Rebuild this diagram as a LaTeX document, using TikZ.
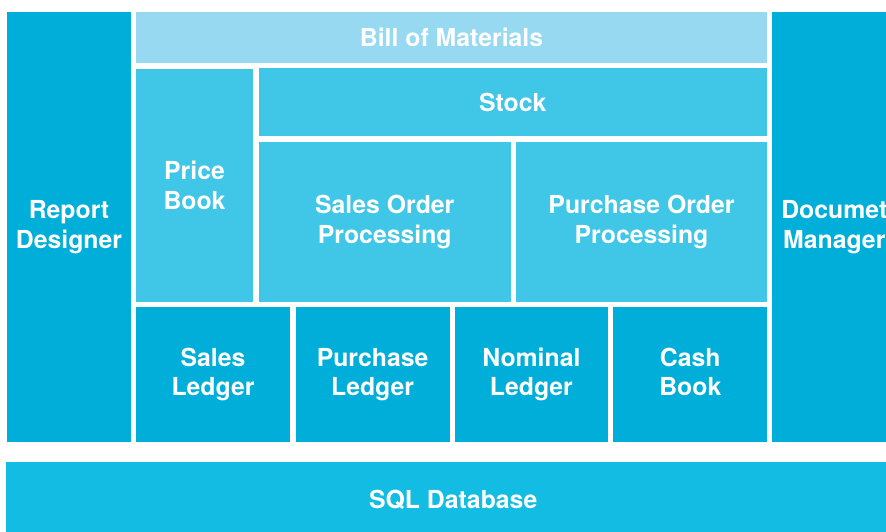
\documentclass[tikz,border=0pt]{standalone}
\usepackage{fontspec}
\setmainfont{TeX Gyre Heros}
\definecolor{darkblue}{HTML}{00AEDA}
\definecolor{midblue}{HTML}{40C6E7}
\definecolor{lightblue}{HTML}{96D9F0}
\definecolor{sqlblue}{HTML}{13BCE3}
\tikzset{
  box/.style={inner sep=0pt, outer sep=0pt, align=center, text=white,
    font=\bfseries\fontsize{24.8}{29.4}\selectfont},
  darkbox/.style={box, fill=darkblue},
  midbox/.style={box, fill=midblue},
  lightbox/.style={box, fill=lightblue},
  sqlbox/.style={box, fill=sqlblue}
}
\begin{document}
\begin{tikzpicture}[x=1pt,y=-1pt]
\useasboundingbox (0,0) rectangle (886,531);
\clip (0,0) rectangle (886,531);
\node[darkbox, minimum width=124pt, minimum height=430pt] (report) at (69,227) {Report\\Designer};
\node[lightbox, minimum width=631pt, minimum height=51pt] (bom) at (451.5,37.5) {Bill of Materials};
\node[midbox, minimum width=117pt, minimum height=233pt] (price) at (194.5,185.5) {Price\\Book};
\node[midbox, minimum width=508.5pt, minimum height=68pt] (stock) at (512.75,102) {Stock};
\node[midbox, minimum width=252.5pt, minimum height=160.3pt] (sop) at (384.75,221.85) {Sales Order\\Processing};
\node[midbox, minimum width=251pt, minimum height=160.3pt] (pop) at (641.5,221.85) {Purchase Order\\Processing};
\node[darkbox, minimum width=154pt, minimum height=134.7pt] (sl) at (213,374.65) {Sales\\Ledger};
\node[darkbox, minimum width=153.8pt, minimum height=134.7pt] (pl) at (372.6,374.65) {Purchase\\Ledger};
\node[darkbox, minimum width=153.8pt, minimum height=134.7pt] (nl) at (531.4,374.65) {Nominal\\Ledger};
\node[darkbox, minimum width=154pt, minimum height=134.7pt] (cb) at (690.3,374.65) {Cash\\Book\vphantom{g}};
\node[darkbox, minimum width=124pt, minimum height=430pt] (doc) at (834.3,227) {Documet\\Manager};
\node[sqlbox, minimum width=893.7pt, minimum height=76.3pt] (sql) at (453.15,499.85) {SQL Database};
\end{tikzpicture}
\end{document}
